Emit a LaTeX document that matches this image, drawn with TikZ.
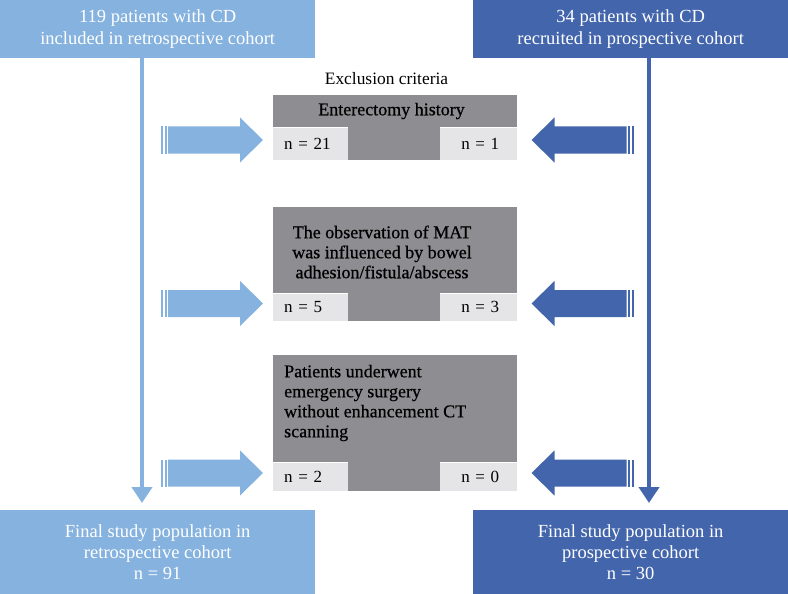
\documentclass[tikz,border=0pt]{standalone}
\usepackage{fontspec}
\setmainfont{Liberation Serif}
\newfontfamily\semib[FakeBold=0.6]{Liberation Serif}
\usetikzlibrary{arrows.meta}
\definecolor{lblue}{RGB}{133,178,222}
\definecolor{dblue}{RGB}{67,101,172}
\definecolor{hgray}{RGB}{142,142,146}
\definecolor{cgray}{RGB}{229,229,231}
\tikzset{
  bluebox/.style={inner sep=0pt, minimum width=315pt, text=white, align=center,
    font=\fontsize{18.5}{22}\selectfont, anchor=north west},
  hdr/.style={fill=hgray, inner sep=0pt, minimum width=244pt, anchor=north west,
    font=\semib\fontsize{18}{20}\selectfont},
  cellL/.style={fill=cgray, inner sep=0pt, minimum width=75pt, minimum height=28pt,
    anchor=north west, font=\fontsize{17}{20}\selectfont, text width=53pt, align=left},
  cellR/.style={fill=cgray, inner sep=0pt, minimum width=77pt, minimum height=28pt,
    anchor=north east, font=\fontsize{17}{20}\selectfont, text width=41pt, align=right},
  vline/.style={line width=4pt, -{Triangle[width=20pt,length=16pt]}, shorten >=7pt},
  crit/.style={inner sep=0pt, font=\semib\fontsize{18}{20}\selectfont},
}
\begin{document}
\begin{tikzpicture}[x=1pt,y=-1pt]
\useasboundingbox[fill=white] (0,0) rectangle (788,594);

% cohort boxes
\node[bluebox, fill=lblue, minimum height=58pt] (tl) at (0,0)
  {119 patients with CD\\included in retrospective cohort};
\node[bluebox, fill=dblue, minimum height=58pt] (tr) at (473,0)
  {34 patients with CD\\recruited in prospective cohort};
\node[bluebox, fill=lblue, minimum height=84pt, font=\fontsize{18.5}{21}\selectfont] (bl) at (0,510)
  {Final study population in\\retrospective cohort\\n = 91};
\node[bluebox, fill=dblue, minimum height=84pt, font=\fontsize{18.5}{21}\selectfont] (br) at (473,510)
  {Final study population in\\prospective cohort\\n = 30};

% vertical connectors
\coordinate (lx) at (142,0);
\coordinate (rx) at (649,0);
\draw[vline, lblue] (lx |- tl.south) -- (lx |- bl.north);
\draw[vline, dblue] (rx |- tr.south) -- (rx |- br.north);

% title
\node[inner sep=0pt, font=\fontsize{17.4}{20}\selectfont] (ex) at (386.5,79) {Exclusion criteria};

% criterion 1
\node[hdr, minimum height=32pt] (h1) at (273,95) {};
\node[crit] (t1) at (391.5,111) {Enterectomy history};
\node[cellL, minimum height=32pt] (c1l) at (h1.south west) {n = 21};
\node[cellR, minimum height=32pt] (c1r) at (h1.south east) {n = 1};
\fill[hgray] (c1l.north east) rectangle (c1r.south west);

% criterion 2
\node[hdr, minimum height=86pt] (h2) at (273,207) {};
\node[crit, align=center] (t2) at (382,252)
  {The observation of MAT\\was influenced by bowel\\adhesion/fistula/abscess};
\node[cellL, minimum height=27pt] (c2l) at (h2.south west) {n = 5};
\node[cellR, minimum height=27pt] (c2r) at (h2.south east) {n = 3};
\fill[hgray] (c2l.north east) rectangle (c2r.south west);

% criterion 3
\node[hdr, minimum height=107pt] (h3) at (273,355) {};
\node[crit, align=left, anchor=west] (t3) at (284,403)
  {Patients underwent\\emergency surgery\\without enhancement CT\\scanning};
\node[cellL, minimum height=28pt] (c3l) at (h3.south west) {n = 2};
\node[cellR, minimum height=28pt] (c3r) at (h3.south east) {n = 0};
\fill[hgray] (c3l.north east) rectangle (c3r.south west);

% block arrows
\foreach \yc in {140,303.5,473}{
  \fill[lblue] (161,\yc-13.5) rectangle (163,\yc+13.5);
  \fill[lblue] (164.5,\yc-13.5) rectangle (166.5,\yc+13.5);
  \fill[lblue] (168,\yc-13.5) -- (240,\yc-13.5) -- (240,\yc-22.5) -- (263,\yc)
    -- (240,\yc+22.5) -- (240,\yc+13.5) -- (168,\yc+13.5) -- cycle;
  \fill[dblue] (633.5,\yc-13.5) rectangle (631.5,\yc+13.5);
  \fill[dblue] (630,\yc-13.5) rectangle (628,\yc+13.5);
  \fill[dblue] (626.5,\yc-13.5) -- (554.5,\yc-13.5) -- (554.5,\yc-22.5) -- (531.5,\yc)
    -- (554.5,\yc+22.5) -- (554.5,\yc+13.5) -- (626.5,\yc+13.5) -- cycle;
}
\end{tikzpicture}
\end{document}
